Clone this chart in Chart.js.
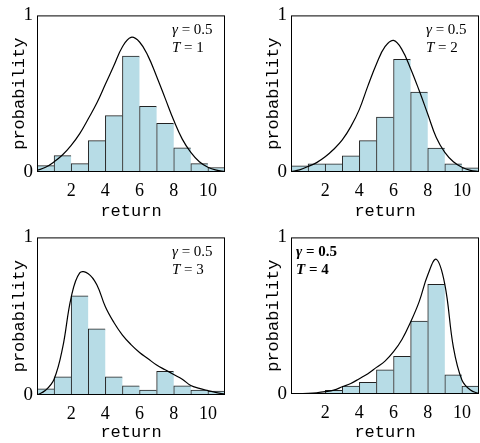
<!DOCTYPE html>
<html>
<head>
<meta charset="utf-8">
<script src="https://cdn.jsdelivr.net/npm/chart.js@4.4.0/dist/chart.umd.min.js"></script>
<style>
  html, body { margin: 0; padding: 0; background: #fff; }
  #wrap { position: relative; width: 480px; height: 443px; overflow: hidden; }
  #wrap canvas { position: absolute; }
</style>
</head>
<body>
<div id="wrap">
  <canvas id="chartT1" width="240" height="222" style="left:0px;top:0px"></canvas>
  <canvas id="chartT2" width="240" height="222" style="left:240px;top:0px"></canvas>
  <canvas id="chartT3" width="240" height="221" style="left:0px;top:222px"></canvas>
  <canvas id="chartT4" width="240" height="221" style="left:240px;top:222px"></canvas>
</div>
<script>
// histogram bins are one unit wide, centred on the half integers
const binCenters = [0.5, 1.5, 2.5, 3.5, 4.5, 5.5, 6.5, 7.5, 8.5, 9.5, 10.5];
const curveX = [0, 0.5, 1, 1.5, 2, 2.5, 3, 3.5, 4, 4.5, 5, 5.5, 6, 6.5, 7, 7.5, 8, 8.5, 9, 9.5, 10, 10.5, 11];
const xTickValues = [2, 4, 6, 8, 10];
const yTickValues = [0, 1];
const gammaValue = 0.5;
const horizons = [1, 2, 3, 4];

const histT1 = [0.041, 0.105, 0.053, 0.20, 0.36, 0.74, 0.42, 0.31, 0.154, 0.053, 0.029];
const histT2 = [0.039, 0.052, 0.052, 0.103, 0.20, 0.35, 0.72, 0.51, 0.153, 0.052, 0.027];
const histT3 = [0.039, 0.115, 0.63, 0.42, 0.115, 0.058, 0.031, 0.15, 0.058, 0.031, 0.025];
const histT4 = [0, 0.005, 0.023, 0.05, 0.075, 0.154, 0.24, 0.465, 0.70, 0.123, 0.05];

const curveT1 = [0.01, 0.03, 0.065, 0.11, 0.17, 0.245, 0.34, 0.44, 0.56, 0.68, 0.80, 0.86, 0.83, 0.74, 0.61, 0.47, 0.33, 0.21, 0.125, 0.065, 0.03, 0.012, 0.004];
const curveT2 = [0.003, 0.014, 0.035, 0.06, 0.097, 0.145, 0.205, 0.29, 0.40, 0.55, 0.69, 0.80, 0.84, 0.78, 0.66, 0.52, 0.37, 0.22, 0.125, 0.065, 0.03, 0.01, 0.003];
const curveT3 = [0, 0.03, 0.10, 0.30, 0.62, 0.775, 0.77, 0.70, 0.56, 0.46, 0.38, 0.32, 0.27, 0.23, 0.19, 0.16, 0.13, 0.10, 0.06, 0.042, 0.028, 0.015, 0.005];
const curveT4 = [0, 0.002, 0.004, 0.008, 0.015, 0.025, 0.046, 0.067, 0.098, 0.13, 0.17, 0.21, 0.27, 0.35, 0.46, 0.59, 0.76, 0.86, 0.70, 0.30, 0.09, 0.025, 0.003];

Chart.defaults.font.family = "'Liberation Serif', 'Times New Roman', serif";
Chart.defaults.color = '#000';

// box round the plot area + the gamma / T note in a corner
const panelNote = {
    id: 'panelNote',
    afterDatasetsDraw(chart, args, opts) {
        const ctx = chart.ctx;
        const a = chart.chartArea;
        ctx.save();
        ctx.strokeStyle = '#000';
        ctx.lineWidth = 1;
        ctx.strokeRect(a.left + 0.5, a.top + 0.5, a.right - a.left - 1, a.bottom - a.top - 1);

        const weight = opts.bold ? 'bold ' : '';
        const x = opts.corner === 'left' ? a.left + 5 : a.right - 53;
        const rows = [['\u03b3', ' = ' + gammaValue], ['T', ' = ' + opts.T]];
        ctx.fillStyle = '#000';
        ctx.textBaseline = 'middle';
        ctx.textAlign = 'left';
        rows.forEach(function (r, i) {
            const y = a.top + 15 + i * 18;
            ctx.font = 'italic ' + weight + "15px 'Liberation Serif'";
            ctx.fillText(r[0], x, y);
            const w = ctx.measureText(r[0]).width;
            ctx.font = weight + "15px 'Liberation Serif'";
            ctx.fillText(r[1], x + w, y);
        });
        ctx.restore();
    }
};

function makeChart(id, hist, curve, T, pad, xAxisH, corner, bold) {
    return new Chart(document.getElementById(id), {
        type: 'bar',
        data: {
            datasets: [{
                type: 'line',
                data: curveX.map((x, i) => ({ x: x, y: curve[i] })),
                borderColor: '#000',
                borderWidth: 1.2,
                pointRadius: 0,
                fill: false,
                tension: 0.4,
                order: 0
            }, {
                type: 'bar',
                data: binCenters.map((x, i) => ({ x: x, y: hist[i] })),
                backgroundColor: '#b7dce6',
                borderColor: '#222',
                borderWidth: { top: 1, left: 1, right: 0, bottom: 0 },
                borderSkipped: false,
                barPercentage: 1,
                categoryPercentage: 1,
                grouped: false,
                order: 1
            }]
        },
        options: {
            responsive: false,
            animation: false,
            devicePixelRatio: 1,
            events: [],
            layout: { padding: { top: pad.top, right: pad.right, left: pad.left, bottom: 0 } },
            plugins: {
                legend: { display: false },
                tooltip: { enabled: false },
                panelNote: { T: T, corner: corner, bold: bold }
            },
            scales: {
                x: {
                    type: 'linear',
                    min: 0,
                    max: 11,
                    offset: false,
                    grid: { display: false, drawTicks: false },
                    border: { display: false },
                    afterBuildTicks: s => { s.ticks = xTickValues.map(v => ({ value: v })); },
                    afterFit: s => { s.height = xAxisH; },
                    ticks: { padding: 8, maxRotation: 0, autoSkip: false, font: { size: 18 } },
                    title: {
                        display: true,
                        text: 'return',
                        font: { family: "'Liberation Mono', monospace", size: 17 },
                        padding: { top: 0, bottom: 0 }
                    }
                },
                y: {
                    min: 0,
                    max: 1,
                    grid: { display: false, drawTicks: false },
                    border: { display: false },
                    afterBuildTicks: s => { s.ticks = yTickValues.map(v => ({ value: v })); },
                    afterFit: s => { s.width = 37; },
                    ticks: { padding: 4, font: { size: 19 } },
                    title: {
                        display: true,
                        text: 'probability',
                        font: { family: "'Liberation Mono', monospace", size: 17 },
                        padding: { top: 9, bottom: 0 }
                    }
                }
            }
        },
        plugins: [panelNote]
    });
}

makeChart('chartT1', histT1, curveT1, horizons[0], { top: 10, right: 15, left: 0 }, 50, 'right', false);
makeChart('chartT2', histT2, curveT2, horizons[1], { top: 10, right: 1, left: 14 }, 50, 'right', false);
makeChart('chartT3', histT3, curveT3, horizons[2], { top: 11, right: 15, left: 0 }, 48, 'right', false);
makeChart('chartT4', histT4, curveT4, horizons[3], { top: 12, right: 1, left: 14 }, 49, 'left', true);
</script>
</body>
</html>
